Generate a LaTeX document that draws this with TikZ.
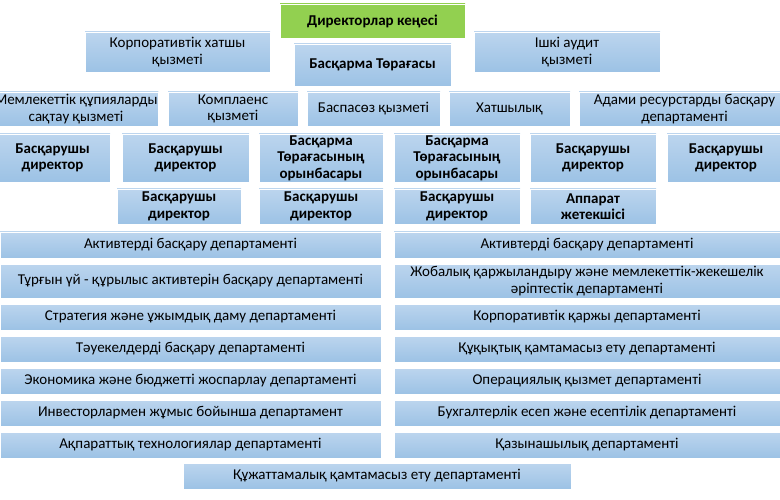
\documentclass[tikz,border=0pt]{standalone}
\usepackage{fontspec}
\setmainfont{Carlito}
\begin{document}
\begin{tikzpicture}[x=1pt,y=-1pt,
 bx/.style={draw=white,line width=0.6pt,top color=blueT,bottom color=blueB,align=center,inner sep=1pt,font=\fontsize{15}{16.5}\selectfont},
 gbx/.style={bx,top color=greenC,bottom color=greenC},
 bb/.style={font=\fontsize{15}{16.5}\selectfont\bfseries}]
\definecolor{blueT}{HTML}{BCD5EE}
\definecolor{blueB}{HTML}{9CC2E5}
\definecolor{greenC}{HTML}{92D050}
\useasboundingbox (0,0) rectangle (780,500);
\def\B#1#2#3#4#5#6#7{\node[bx,#1,minimum width={#4-#2},minimum height={#5-#3}] (#6) at ({(#2+#4)/2},{(#3+#5)/2}) {#7};}
\B{gbx,bb}{280}{4}{465}{38}{board}{Директорлар кеңесі}
\B{}{85}{32}{270}{72}{corp}{Корпоративтік хатшы\\қызметі}
\B{bb}{294}{44}{451}{86}{chair}{Басқарма Төрағасы}
\B{}{474}{32}{660}{72}{audit}{Ішкі аудит\\қызметі}
\B{}{-6}{92}{158}{126}{secret}{Мемлекеттік құпияларды\\сақтау қызметі}
\B{}{168}{92}{298}{126}{compl}{Комплаенс\\қызметі}
\B{}{307}{92}{440}{126}{press}{Баспасөз қызметі}
\B{}{449}{92}{570}{126}{office}{Хатшылық}
\B{}{579}{92}{790}{126}{hr}{Адами ресурстарды басқару\\департаменті}
\B{bb}{-5}{134}{110}{182}{d1}{Басқарушы\\директор}
\B{bb}{122}{134}{249}{182}{d2}{Басқарушы\\директор}
\B{bb}{259}{134}{383}{182}{v1}{Басқарма\\Төрағасының\\орынбасары}
\B{bb}{394}{134}{520}{182}{v2}{Басқарма\\Төрағасының\\орынбасары}
\B{bb}{530}{134}{656}{182}{d3}{Басқарушы\\директор}
\B{bb}{667}{134}{785}{182}{d4}{Басқарушы\\директор}
\B{bb}{117}{189}{241}{224}{d5}{Басқарушы\\директор}
\B{bb}{259}{189}{383}{224}{d6}{Басқарушы\\директор}
\B{bb}{394}{189}{520}{224}{d7}{Басқарушы\\директор}
\B{bb}{530}{189}{656}{224}{app}{Аппарат\\жетекшісі}
\B{}{0}{232}{381}{258}{l1}{Активтерді басқару департаменті}
\B{}{0}{264}{381}{298}{l2}{Тұрғын үй - құрылыс активтерін басқару департаменті}
\B{}{0}{304}{381}{330}{l3}{Стратегия және ұжымдық даму департаменті}
\B{}{0}{336}{381}{362}{l4}{Тәуекелдерді басқару департаменті}
\B{}{0}{368}{381}{394}{l5}{Экономика және бюджетті жоспарлау департаменті}
\B{}{0}{400}{381}{426}{l6}{Инвесторлармен жұмыс бойынша департамент}
\B{}{0}{432}{381}{458}{l7}{Ақпараттық технологиялар департаменті}
\B{}{394}{232}{780}{258}{r1}{Активтерді басқару департаменті}
\B{}{394}{264}{780}{298}{r2}{Жобалық қаржыландыру және мемлекеттік-жекешелік\\әріптестік департаменті}
\B{}{394}{304}{780}{330}{r3}{Корпоративтік қаржы департаменті}
\B{}{394}{336}{780}{362}{r4}{Құқықтық қамтамасыз ету департаменті}
\B{}{394}{368}{780}{394}{r5}{Операциялық қызмет департаменті}
\B{}{394}{400}{780}{426}{r6}{Бухгалтерлік есеп және есептілік департаменті}
\B{}{394}{432}{780}{458}{r7}{Қазынашылық департаменті}
\B{}{183}{463}{571}{489}{docs}{Құжаттамалық қамтамасыз ету департаменті}
\end{tikzpicture}
\end{document}
